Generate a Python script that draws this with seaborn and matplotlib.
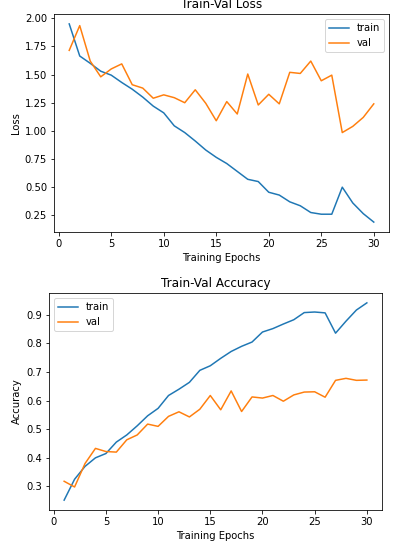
import seaborn as sns
import numpy as np
import pandas as pd
import matplotlib.pyplot as plt
from matplotlib.ticker import MultipleLocator

epochs = list(range(1, 31))
train_loss = [1.95, 1.665, 1.60, 1.53, 1.495, 1.43, 1.37, 1.30, 1.22, 1.16,
              1.045, 0.985, 0.91, 0.83, 0.765, 0.71, 0.64, 0.57, 0.55, 0.455,
              0.43, 0.37, 0.335, 0.275, 0.26, 0.26, 0.50, 0.36, 0.265, 0.19]
val_loss = [1.715, 1.935, 1.62, 1.48, 1.55, 1.595, 1.41, 1.38, 1.29, 1.32,
            1.295, 1.25, 1.365, 1.245, 1.09, 1.26, 1.15, 1.505, 1.23, 1.325,
            1.24, 1.52, 1.51, 1.62, 1.445, 1.495, 0.985, 1.04, 1.12, 1.24]
train_acc = [0.252, 0.325, 0.37, 0.40, 0.415, 0.455, 0.48, 0.512, 0.547, 0.573,
             0.618, 0.64, 0.664, 0.706, 0.722, 0.748, 0.772, 0.79, 0.805, 0.84,
             0.852, 0.868, 0.883, 0.908, 0.91, 0.907, 0.836, 0.878, 0.917, 0.942]
val_acc = [0.318, 0.298, 0.38, 0.433, 0.422, 0.42, 0.463, 0.48, 0.518, 0.51,
           0.545, 0.561, 0.543, 0.57, 0.618, 0.568, 0.634, 0.562, 0.613, 0.609,
           0.618, 0.598, 0.62, 0.63, 0.631, 0.612, 0.671, 0.678, 0.671, 0.672]

loss_df = pd.DataFrame({'epoch': epochs, 'train': train_loss, 'val': val_loss})
acc_df = pd.DataFrame({'epoch': epochs, 'train': train_acc, 'val': val_acc})

#72 dpi so that point sizes shrink like the reference
DPI = 72
fig = plt.figure(figsize=(398/DPI, 544/DPI), dpi=DPI)
ax1 = fig.add_axes([54/398, 1 - 232/544, 335/398, 218/544])
ax2 = fig.add_axes([49/398, 1 - 510/544, 333/398, 217/544])

#loss
sns.lineplot(data=loss_df.melt('epoch'), x='epoch', y='value', hue='variable', ax=ax1)
ax1.set_title('Train-Val Loss')
ax1.set_xlabel('Training Epochs')
ax1.set_ylabel('Loss')
ax1.legend(loc='upper right')
ax1.set_xticks([0, 5, 10, 15, 20, 25, 30])
ax1.yaxis.set_major_locator(MultipleLocator(0.25))

#accuracy
sns.lineplot(data=acc_df.melt('epoch'), x='epoch', y='value', hue='variable', ax=ax2)
ax2.set_title('Train-Val Accuracy')
ax2.set_xlabel('Training Epochs')
ax2.set_ylabel('Accuracy')
ax2.legend(loc='upper left')
ax2.set_xticks([0, 5, 10, 15, 20, 25, 30])
ax2.yaxis.set_major_locator(MultipleLocator(0.1))

fig.savefig('out.png', dpi=DPI)
